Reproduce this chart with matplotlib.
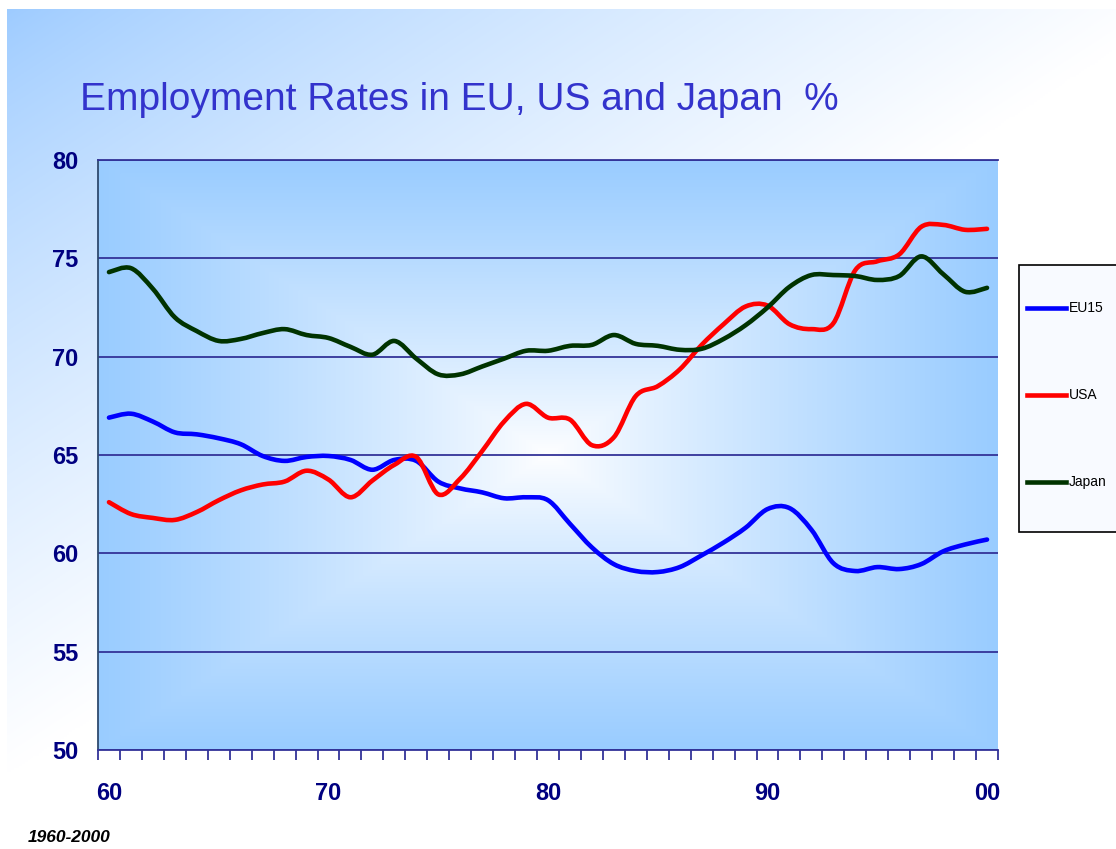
import numpy as np
import matplotlib
matplotlib.use('Agg')
import matplotlib.pyplot as plt
from matplotlib.colors import to_rgb
from matplotlib.lines import Line2D
from matplotlib.patches import Rectangle, PathPatch
from matplotlib.path import Path

plt.rcParams['font.family'] = ['Liberation Sans', 'DejaVu Sans']

# employment rates (%)
years = list(range(1960, 2001))
eu15 = [66.9, 67.1, 66.7, 66.15, 66.05, 65.85, 65.55, 64.95, 64.7, 64.9,
        64.95, 64.75, 64.25, 64.75, 64.7, 63.65, 63.3, 63.1, 62.8, 62.85,
        62.7, 61.5, 60.3, 59.45, 59.1, 59.05, 59.3, 59.9, 60.55, 61.3,
        62.25, 62.3, 61.2, 59.5, 59.1, 59.3, 59.2, 59.45, 60.1, 60.45, 60.7]
usa = [62.6, 62.0, 61.8, 61.7, 62.1, 62.7, 63.2, 63.5, 63.65, 64.2,
       63.75, 62.85, 63.7, 64.5, 64.9, 63.0, 63.8, 65.2, 66.7, 67.6,
       66.9, 66.8, 65.5, 65.9, 68.0, 68.5, 69.35, 70.6, 71.65, 72.55,
       72.6, 71.65, 71.4, 71.7, 74.4, 74.85, 75.2, 76.6, 76.7, 76.45, 76.5]
japan = [74.3, 74.5, 73.45, 72.0, 71.3, 70.8, 70.9, 71.2, 71.4, 71.1,
         70.95, 70.5, 70.1, 70.8, 69.9, 69.1, 69.1, 69.5, 69.9, 70.3,
         70.3, 70.55, 70.6, 71.1, 70.65, 70.55, 70.35, 70.4, 70.9, 71.6,
         72.5, 73.55, 74.15, 74.15, 74.1, 73.9, 74.1, 75.1, 74.2, 73.3, 73.5]

series_names = ['EU15', 'USA', 'Japan']
series_colors = ['#0000FF', '#FF0000', '#003300']
x_tick_years = [1960, 1970, 1980, 1990, 2000]
x_tick_labels = ['60', '70', '80', '90', '00']
y_ticks = [50, 55, 60, 65, 70, 75, 80]


def smooth_path(xs, ys):
    # Excel-style smoothed line: cubic bezier through every data point
    pts = np.column_stack([xs, ys]).astype(float)
    n = len(pts)
    verts = [pts[0]]
    codes = [Path.MOVETO]
    for i in range(n - 1):
        p0 = pts[max(i - 1, 0)]
        p1 = pts[i]
        p2 = pts[i + 1]
        p3 = pts[min(i + 2, n - 1)]
        verts += [p1 + (p2 - p0) / 6, p2 - (p3 - p1) / 6, p2]
        codes += [Path.CURVE4] * 3
    return Path(verts, codes)


W, H = 1116, 849
fig = plt.figure(figsize=(W / 100, H / 100), dpi=100)
fig.patch.set_facecolor('white')

# slide background: light blue top-left fading to white
bg = fig.add_axes([7 / W, 0, 1 - 7 / W, 1 - 9 / H])
bg.axis('off')
gx, gy = np.meshgrid(np.linspace(0, 1, 400), np.linspace(0, 1, 400))
t = np.clip(gx * 0.95 + gy * 1.1, 0, 1) ** 0.8
sky = np.array(to_rgb('#9DCBFF'))
bg_img = sky * (1 - t[..., None]) + np.ones(3) * t[..., None]
bg.imshow(bg_img, extent=[0, 1, 0, 1], origin='upper', aspect='auto')
bg.set_xlim(0, 1)
bg.set_ylim(0, 1)

# plot area
ax = fig.add_axes([98 / W, 1 - 750 / H, 900 / W, 590 / H])
ax.set_xlim(1959.5, 2000.5)
ax.set_ylim(50, 80)

# rectangular "from centre" fill: white middle, blue edges
u, v = np.meshgrid(np.linspace(-1, 1, 400), np.linspace(-1, 1, 400))
r = np.maximum(np.abs(u), np.abs(v)) ** 0.85
edge = np.array(to_rgb('#99CCFF'))
plot_img = np.ones(3) * (1 - r[..., None]) + edge * r[..., None]
ax.imshow(plot_img, extent=[1959.5, 2000.5, 50, 80], aspect='auto',
          zorder=0, interpolation='bilinear')

ax.set_yticks(y_ticks)
ax.grid(axis='y', color='#333399', lw=1.3, zorder=1)
ax.grid(axis='x', visible=False)

for vals, name, col in zip([eu15, usa, japan], series_names, series_colors):
    ax.add_patch(PathPatch(smooth_path(years, vals), facecolor='none',
                           edgecolor=col, lw=3.3, zorder=3,
                           joinstyle='round', capstyle='round'))

ax.set_xticks(x_tick_years)
ax.set_xticklabels(x_tick_labels)
ax.set_xticks(np.arange(1959.5, 2001, 1), minor=True)
ax.tick_params(axis='x', which='major', length=0, pad=23, labelsize=17,
               labelcolor='#000080')
ax.tick_params(axis='x', which='minor', length=7, width=1.3,
               color='#333399', direction='out')
ax.tick_params(axis='y', length=0, pad=14, labelsize=17, labelcolor='#000080')
for lab in ax.get_xticklabels() + ax.get_yticklabels():
    lab.set_fontweight('bold')

ax.spines['right'].set_visible(False)
ax.spines['top'].set_color('#333399')
ax.spines['top'].set_linewidth(1.3)
ax.spines['bottom'].set_color('#333399')
ax.spines['bottom'].set_linewidth(1.3)
ax.spines['left'].set_color('#2E4A6E')
ax.spines['left'].set_linewidth(1.3)

# legend box on the right, partly cut by the edge
fig.add_artist(Rectangle((1019 / W, 1 - 532 / H), 130 / W, 267 / H,
                         transform=fig.transFigure, facecolor='#F8FAFF',
                         edgecolor='black', lw=1.2))
for i, (name, col) in enumerate(zip(series_names, series_colors)):
    yy = 1 - (308 + i * 87) / H
    fig.add_artist(Line2D([1027 / W, 1066 / W], [yy, yy], color=col, lw=3.3,
                          transform=fig.transFigure))
    fig.text(1069 / W, yy, name, fontsize=10, va='center', ha='left')

fig.text(80 / W, 1 - 100 / H, 'Employment Rates in EU, US and Japan  %',
         fontsize=28, color='#3333CC', va='center', ha='left')
fig.text(28 / W, 1 - 838 / H, '1960-2000', fontsize=12.5, fontweight='bold',
         fontstyle='italic', va='center', ha='left')

fig.savefig('out.png', dpi=100)
